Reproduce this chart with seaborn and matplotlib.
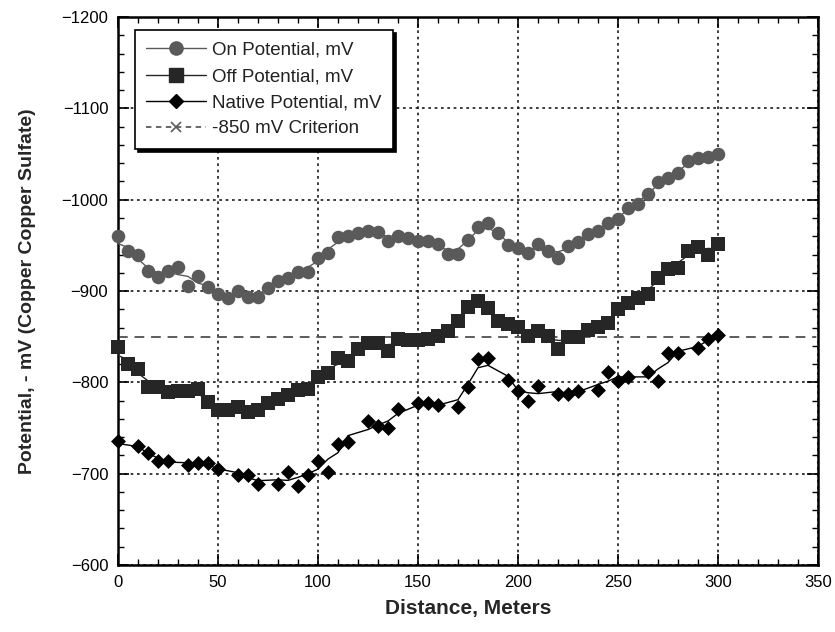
import matplotlib
matplotlib.use("Agg")
import matplotlib.pyplot as plt
from matplotlib.lines import Line2D
from matplotlib.ticker import MultipleLocator
import seaborn as sns
import numpy as np
import pandas as pd

# ---------------- data ----------------
on_x = list(range(0, 305, 5))
on_mv = [-960, -944, -939, -922, -915, -922, -926, -906, -916, -904,
         -897, -892, -900, -893, -893, -903, -911, -914, -921, -921,
         -936, -942, -959, -960, -964, -966, -965, -955, -960, -958,
         -955, -955, -952, -941, -941, -956, -970, -974, -964, -950,
         -947, -942, -951, -944, -936, -949, -954, -963, -966, -974,
         -979, -991, -995, -1006, -1019, -1024, -1029, -1042, -1046, -1047,
         -1050]

off_x = list(range(0, 305, 5))
off_mv = [-839, -820, -815, -795, -795, -789, -790, -790, -793, -779,
          -770, -770, -773, -767, -770, -777, -782, -786, -792, -793,
          -806, -810, -827, -823, -837, -843, -843, -834, -847, -846,
          -846, -847, -851, -856, -867, -882, -889, -881, -867, -864,
          -861, -851, -856, -851, -837, -850, -850, -857, -861, -865,
          -880, -887, -892, -897, -914, -924, -925, -944, -948, -940,
          -952]

native_x = [0, 10, 15, 20, 25, 35, 40, 45, 50, 60, 65, 70, 80, 85, 90, 95,
            100, 105, 110, 115, 125, 130, 135, 140, 150, 155, 160, 170, 175,
            180, 185, 195, 200, 205, 210, 220, 225, 230, 240, 245, 250, 255,
            265, 270, 275, 280, 290, 295, 300]
native_mv = [-736, -730, -723, -714, -714, -710, -712, -712, -705, -699,
             -699, -689, -689, -702, -687, -699, -714, -702, -732, -735,
             -758, -752, -750, -771, -777, -777, -775, -773, -795, -826,
             -827, -803, -790, -780, -796, -787, -787, -790, -792, -811,
             -801, -806, -811, -801, -832, -832, -838, -848, -852]

crit_x = [0, 350]
crit_mv = [-850, -850]

labels = ["On Potential, mV", "Off Potential, mV",
          "Native Potential, mV", "-850 mV Criterion"]

# ---------------- style ----------------
sns.set_theme(style="white")
plt.rcParams["font.family"] = ["Liberation Sans", "DejaVu Sans"]

fig = plt.figure(figsize=(8.35, 6.32), dpi=100)
ax = fig.add_axes([0.1413, 0.106, 0.8383, 0.867])

on_df = pd.DataFrame({"x": on_x, "v": on_mv})
off_df = pd.DataFrame({"x": off_x, "v": off_mv})
nat_df = pd.DataFrame({"x": native_x, "v": native_mv})
for d in (on_df, off_df, nat_df):
    d["trend"] = d["v"].rolling(3, center=True, min_periods=1).mean()

on_c, off_c, nat_c, crit_c = "#5a5a5a", "#262626", "#000000", "#5c5c5c"

# grid first
ax.set_axisbelow(True)
ax.grid(True, which="major", color="#1a1a1a", linestyle=(0, (1.6, 2.2)), linewidth=1.2)

# criterion
sns.lineplot(x=crit_x, y=crit_mv, ax=ax, color=crit_c, linewidth=1.4,
             linestyle=(0, (5, 3.5)), marker="x", markersize=7,
             markeredgewidth=1.2, clip_on=False, legend=False, zorder=2)

# trend lines
sns.lineplot(data=on_df, x="x", y="trend", ax=ax, color=on_c, linewidth=1.0,
             legend=False, zorder=3)
sns.lineplot(data=off_df, x="x", y="trend", ax=ax, color=off_c, linewidth=1.0,
             legend=False, zorder=3)
sns.lineplot(data=nat_df, x="x", y="trend", ax=ax, color=nat_c, linewidth=1.0,
             legend=False, zorder=3)

# markers
sns.scatterplot(data=on_df, x="x", y="v", ax=ax, marker="o", s=95,
                color=on_c, edgecolor=on_c, linewidth=0, zorder=4, clip_on=False)
sns.scatterplot(data=off_df, x="x", y="v", ax=ax, marker="s", s=110,
                color=off_c, edgecolor=off_c, linewidth=0, zorder=4, clip_on=False)
sns.scatterplot(data=nat_df, x="x", y="v", ax=ax, marker="D", s=58,
                color=nat_c, edgecolor=nat_c, linewidth=0, zorder=4, clip_on=False)

# axes
ax.set_xlim(0, 350)
ax.set_ylim(-600, -1200)
ax.xaxis.set_major_locator(MultipleLocator(50))
ax.xaxis.set_minor_locator(MultipleLocator(10))
ax.yaxis.set_major_locator(MultipleLocator(100))
ax.yaxis.set_minor_locator(MultipleLocator(20))
ax.tick_params(which="both", direction="in", top=True, right=True,
               bottom=True, left=True, colors="black", labelsize=12)
ax.tick_params(which="major", length=8, width=1.2, pad=7)
ax.tick_params(which="minor", length=4, width=1.0)
for s in ax.spines.values():
    s.set_color("black")
    s.set_linewidth(1.8)

ax.set_xlabel("Distance, Meters", fontsize=15, fontweight="bold", labelpad=7)
ax.set_ylabel("Potential, - mV (Copper Copper Sulfate)", fontsize=14,
              fontweight="bold", labelpad=18)

# legend
handles = [
    Line2D([], [], color=on_c, lw=1.0, marker="o", markersize=9.5,
           markerfacecolor=on_c, markeredgecolor=on_c),
    Line2D([], [], color=off_c, lw=1.0, marker="s", markersize=9.5,
           markerfacecolor=off_c, markeredgecolor=off_c),
    Line2D([], [], color=nat_c, lw=1.0, marker="D", markersize=7,
           markerfacecolor=nat_c, markeredgecolor=nat_c),
    Line2D([], [], color=crit_c, lw=1.3, linestyle=(0, (3, 2.5)), marker="x",
           markersize=7, markeredgewidth=1.2),
]
leg = ax.legend(handles, labels, loc="upper left", bbox_to_anchor=(0.024, 0.976),
                borderaxespad=0, frameon=True, fancybox=False,
                shadow={"color": "black", "alpha": 1.0},
                fontsize=13.5, handlelength=3.2, handletextpad=0.3,
                labelspacing=0.48, borderpad=0.62)
leg.get_frame().set_edgecolor("black")
leg.get_frame().set_linewidth(1.2)
leg.get_frame().set_facecolor("white")
for t in leg.get_texts():
    t.set_color("#222222")

fig.savefig("out.png", dpi=100)
